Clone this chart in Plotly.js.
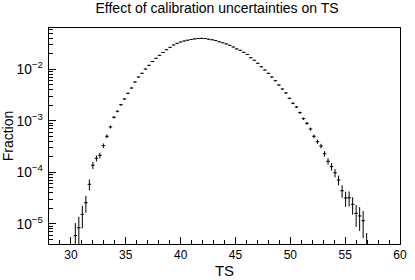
<!DOCTYPE html>
<html><head><meta charset="utf-8">
<script src="https://cdn.plot.ly/plotly-3.0.1.min.js"></script>
<style>html,body{margin:0;padding:0;background:#fff;}#chart{width:415px;height:280px;}</style>
</head><body><div id="chart"></div>
<script>
// Histogram: bin width 0.32, first filled bin centre 30.40
const firstBinCenter = 30.40;
const binWidth = 0.32;
const fraction = [
  5.9e-6, 8.4e-6, 1.53e-5, 2.57e-5, 5.85e-5, 1.37e-4, 1.87e-4, 2.14e-4, 3.29e-4, 5.0e-4,
  7.59e-4, 1.17e-3, 1.53e-3, 2.05e-3, 2.65e-3, 3.42e-3, 4.33e-3, 5.66e-3, 7.08e-3, 8.36e-3,
  0.0101, 0.01196, 0.01417, 0.01636, 0.0187, 0.0212, 0.02403, 0.02675, 0.02964, 0.03199,
  0.03389, 0.03544, 0.03673, 0.0379, 0.03894, 0.03964, 0.03999, 0.03946, 0.03842, 0.0374,
  0.03608, 0.0342, 0.0327, 0.03113, 0.02924, 0.0271, 0.02489, 0.02338, 0.02138, 0.0195,
  0.0168, 0.0150, 0.0131, 0.0112, 0.00969, 0.00836, 0.00709, 0.00601, 0.00496, 0.00414,
  0.00347, 0.00273, 0.00219, 0.00185, 0.00144, 0.00110, 0.000894, 0.000693, 0.000500, 0.000393,
  0.000324, 0.000230, 1.64e-4, 1.29e-4, 9.8e-5, 7.08e-5, 4.39e-5, 3.17e-5, 3.21e-5, 2.39e-5,
  1.60e-5, 1.42e-5, 1.15e-5, 3.3e-6
];
// Poisson errors of the underlying counts
const nEntries = 300000;
const fractionErr = fraction.map(f => Math.sqrt(f * nEntries) / nEntries);

const xTickVals = [30, 35, 40, 45, 50, 55, 60];
const titleText = 'Effect of calibration uncertainties on TS';
const xTitle = 'TS';
const yTitle = 'Fraction';

const font = 'Liberation Sans, Arial, Helvetica, sans-serif';

const trace = {
  type: 'scatter',
  mode: 'markers',
  x0: firstBinCenter,
  dx: binWidth,
  y: fraction,
  marker: {size: 1, color: '#000'},
  error_y: {type: 'data', array: fractionErr, symmetric: true, width: 0, thickness: 1, color: '#000'},
  error_x: {type: 'constant', value: binWidth / 2, width: 0, thickness: 1, color: '#000'},
  hoverinfo: 'x+y',
  showlegend: false
};

const layout = {
  width: 415, height: 280,
  margin: {l: 49, r: 15, t: 28, b: 36, pad: 0},
  paper_bgcolor: '#fff', plot_bgcolor: '#fff',
  font: {family: font, color: '#000', size: 12},
  title: {text: titleText, font: {family: font, size: 14, color: '#000'},
          x: 0.523, xanchor: 'center', y: 0.99, yanchor: 'top'},
  xaxis: {
    range: [28, 60], tickvals: xTickVals, ticks: 'inside', ticklen: 7, tickwidth: 1, tickcolor: '#000',
    minor: {dtick: 1, tick0: 28, ticks: 'inside', ticklen: 4, tickcolor: '#000', showgrid: false},
    showline: true, linecolor: '#000', linewidth: 1, mirror: true,
    showgrid: false, zeroline: false,
    tickfont: {family: font, size: 12, color: '#000'},
    title: {text: xTitle, font: {family: font, size: 15, color: '#000'}, standoff: 4}
  },
  yaxis: {
    type: 'log', range: [-5.392, -1.198], dtick: 1, exponentformat: 'power',
    ticks: 'inside', ticklen: 7, tickwidth: 1, tickcolor: '#000',
    minor: {dtick: 'D1', ticks: 'inside', ticklen: 4, tickcolor: '#000', showgrid: false},
    showline: true, linecolor: '#000', linewidth: 1, mirror: true,
    showgrid: false, zeroline: false,
    tickfont: {family: font, size: 11, color: '#000'},
    ticklabelstandoff: 3,
    title: {text: yTitle, font: {family: font, size: 14, color: '#000'}, standoff: 8}
  }
};

Plotly.newPlot('chart', [trace], layout, {staticPlot: true, displayModeBar: false});
</script>
</body></html>
